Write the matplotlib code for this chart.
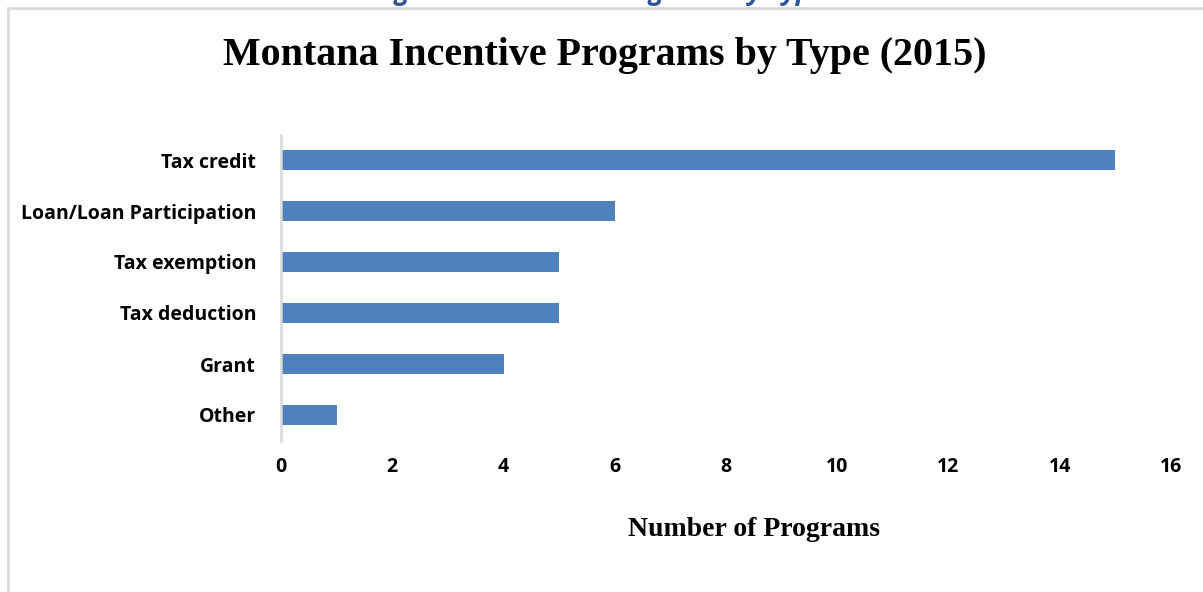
import matplotlib
matplotlib.use("Agg")
import matplotlib.pyplot as plt
from matplotlib.patches import Rectangle

categories = ["Tax credit", "Loan/Loan Participation", "Tax exemption", "Tax deduction", "Grant", "Other"]
values = [15, 6, 5, 5, 4, 1]
xticks = [0, 2, 4, 6, 8, 10, 12, 14, 16]

fig = plt.figure(figsize=(12.03, 5.92), dpi=100)
ax = fig.add_axes([281/1203, 1-440.5/592, (1171-281)/1203, (440.5-134.5)/592])

ypos = list(range(len(categories)))[::-1]
ax.barh(ypos, values, height=0.4, color="#4f81bd")
ax.set_ylim(-0.5, len(categories)-0.5)
ax.set_xlim(0, 16)
ax.set_yticks(ypos)
ax.set_yticklabels(categories, fontfamily="Open Sans", fontweight="bold", fontsize=14)
ax.set_xticks(xticks)
ax.set_xticklabels([str(t) for t in xticks], fontfamily="Open Sans", fontweight="bold", fontsize=14)
ax.tick_params(axis="both", length=0)
ax.tick_params(axis="y", pad=18)
ax.tick_params(axis="x", pad=12)
for s in ["top", "right", "bottom"]:
    ax.spines[s].set_visible(False)
ax.spines["left"].set_color("#d9d9d9")
ax.spines["left"].set_linewidth(1.8)

fig.text(754/1203, 1-529/592, "Number of Programs", fontfamily="Liberation Serif", fontweight="bold",
         fontsize=20, ha="center", va="center")

fig.text(605/1203, 1-55/592, "Montana Incentive Programs by Type (2015)", fontfamily="Liberation Serif",
         fontweight="bold", fontsize=28.8, ha="center", va="center")

fig.text(600/1203, 1-0.5/592, "Figure 4: Incentive Programs by Type", color="#2e5597", fontweight="bold",
         fontstyle="italic", fontfamily="Open Sans", fontsize=19, ha="center", va="baseline")

fig.patches.append(Rectangle((8/1203, -0.1), 1.2, 1-8/592+0.1, transform=fig.transFigure,
                             fill=False, edgecolor="#d9d9d9", linewidth=2))

fig.savefig("out.png", dpi=100)
